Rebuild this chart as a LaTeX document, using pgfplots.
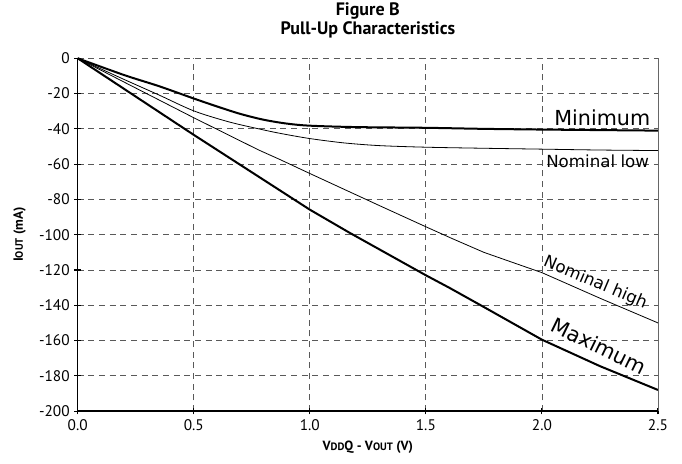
\documentclass[border=0pt]{standalone}
\usepackage{pgfplots}
\pgfplotsset{compat=1.18}
\usepackage{fontspec}
\setmainfont{PT Sans}
\newfontfamily\curvefont{DejaVu Sans}
\newcommand{\sm}[1]{{\fontsize{8}{9}\selectfont #1}}

\begin{document}
\begin{tikzpicture}
\begin{axis}[
  scale only axis,
  width=435pt, height=264.5pt,
  xmin=0, xmax=2.5, ymin=-200, ymax=0,
  axis lines*=left,
  axis line style={black, line width=1.1pt, -},
  xtick={0,0.5,1,1.5,2,2.5},
  ytick={-200,-180,-160,-140,-120,-100,-80,-60,-40,-20,0},
  /pgf/number format/assume math mode=true,
  xticklabel style={/pgf/number format/.cd, fixed, fixed zerofill, precision=1},
  tick label style={font=\fontsize{11.5}{13}\selectfont},
  tick align=center,
  major tick length=5pt,
  tick style={black, line width=0.8pt},
  grid=major,
  major grid style={dash pattern=on 4.5pt off 3.5pt, black!65, line width=0.6pt},
  title={Figure B\\Pull-Up Characteristics},
  title style={at={(axis description cs:0.5,1)}, anchor=south, inner sep=0pt,
    yshift=9pt, align=center, font=\bfseries\fontsize{13.5}{14}\selectfont},
  xlabel={V\sm{DD}Q - V\sm{OUT} (V)},
  ylabel={I\sm{OUT} (mA)},
  label style={font=\bfseries\fontsize{10}{12}\selectfont},
  xlabel style={at={(axis description cs:0.5,-0.103)}, anchor=center},
  ylabel style={at={(axis description cs:-0.1,0.5)}, anchor=center},
  clip=false,
]
% Minimum
\addplot[black, line width=1.5pt, smooth] coordinates {
  (0,0) (0.2,-9.5) (0.35,-15.8) (0.5,-22.8) (0.6,-27.3) (0.7,-31.5) (0.8,-34.8)
  (0.9,-37) (1.0,-38.2) (1.2,-39) (1.5,-39.4) (1.75,-40)
  (2.0,-40.4) (2.25,-40.7) (2.5,-41)};
% Nominal low
\addplot[black, line width=0.6pt, smooth] coordinates {
  (0,0) (0.2,-12) (0.35,-20.8) (0.5,-29.8) (0.65,-36) (0.78,-40) (0.87,-42.5)
  (1.0,-45.5) (1.15,-48) (1.3,-49.5) (1.5,-50.4) (1.75,-51)
  (2.0,-51.5) (2.25,-52) (2.5,-52.3)};
% Nominal high
\addplot[black, line width=0.6pt] coordinates {
  (0,0) (0.2,-13.5) (0.5,-33.7) (0.78,-52) (0.87,-57.3) (1.0,-65.3)
  (1.3,-83.5) (1.5,-95.5) (1.61,-102) (1.75,-110) (1.88,-116) (2.0,-121.5)
  (2.25,-136) (2.5,-150)};
% Maximum
\addplot[black, line width=1.5pt] coordinates {
  (0,0) (0.25,-21.7) (0.5,-43.4) (0.75,-64.6) (1.0,-85.8)
  (1.17,-98.8) (1.5,-123) (1.6,-130) (1.75,-141) (2.0,-159.5)
  (2.25,-174.5) (2.5,-188)};
\draw[black!60, line width=0.6pt] (axis cs:2.5,-200) -- (axis cs:2.5,0);
\node[font=\curvefont\fontsize{15.5}{17}\selectfont] at (axis cs:2.26,-34) {Minimum};
\node[font=\curvefont\fontsize{12.5}{14}\selectfont] at (axis cs:2.24,-58.3) {Nominal low};
\node[font=\curvefont\fontsize{12.5}{14}\selectfont, rotate=-23] at (axis cs:2.23,-127.5) {Nominal high};
\node[font=\curvefont\fontsize{15.5}{17}\selectfont, rotate=-26] at (axis cs:2.245,-163) {Maximum};
\coordinate (ll) at (rel axis cs:0,0);
\coordinate (ur) at (rel axis cs:1,1);
\end{axis}
\pgfresetboundingbox
\path ([shift={(-58.25pt,-39pt)}]ll) rectangle ([shift={(18pt,43.7pt)}]ur);
\end{tikzpicture}
\end{document}
